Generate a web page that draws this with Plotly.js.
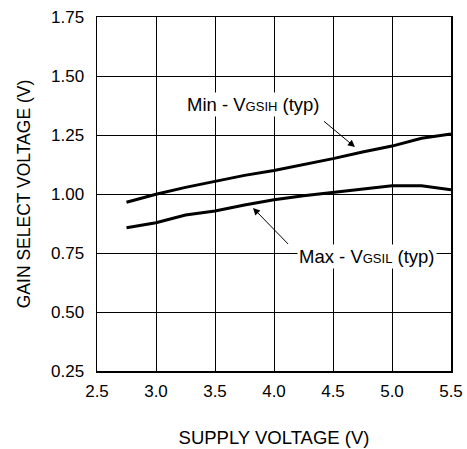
<!DOCTYPE html>
<html>
<head>
<meta charset="utf-8">
<script src="https://cdn.plot.ly/plotly-3.0.1.min.js"></script>
<style>html,body{margin:0;padding:0;background:#fff}#chart{width:467px;height:449px}</style>
</head>
<body>
<div id="chart"></div>
<script>
var supplyVoltage = [2.75, 3.0, 3.25, 3.5, 3.75, 4.0, 4.25, 4.5, 4.75, 5.0, 5.25, 5.5];
var minVgsih = [0.965, 0.999, 1.028, 1.055, 1.079, 1.100, 1.124, 1.150, 1.178, 1.203, 1.236, 1.254];
var maxVgsil = [0.857, 0.878, 0.911, 0.928, 0.953, 0.976, 0.993, 1.007, 1.020, 1.035, 1.035, 1.018];
var xTicks = [2.5, 3.0, 3.5, 4.0, 4.5, 5.0, 5.5];
var yTicks = [0.25, 0.50, 0.75, 1.00, 1.25, 1.50, 1.75];

var font = 'Liberation Sans, Arial, sans-serif';
var traces = [
  {x: supplyVoltage, y: minVgsih, mode: 'lines', line: {color: '#000', width: 3}, hoverinfo: 'none'},
  {x: supplyVoltage, y: maxVgsil, mode: 'lines', line: {color: '#000', width: 3}, hoverinfo: 'none'}
];
var layout = {
  width: 467, height: 449,
  margin: {l: 97, r: 16, t: 17, b: 78},
  showlegend: false,
  paper_bgcolor: '#fff', plot_bgcolor: '#fff',
  font: {family: font, color: '#000', size: 17},
  xaxis: {
    range: [2.5, 5.5], tickvals: xTicks, ticktext: xTicks.map(function(v){return v.toFixed(1);}),
    showgrid: true, gridcolor: '#000', gridwidth: 1, zeroline: false,
    showline: true, linecolor: '#000', linewidth: 1.5, mirror: true,
    ticks: '', ticklabelstandoff: 4,
    tickfont: {family: font, size: 17, color: '#000'},
    title: {text: 'SUPPLY VOLTAGE (V)', font: {family: font, size: 18.5, color: '#000'}, standoff: 31}
  },
  yaxis: {
    range: [0.25, 1.75], tickvals: yTicks, ticktext: yTicks.map(function(v){return v.toFixed(2);}),
    showgrid: true, gridcolor: '#000', gridwidth: 1, zeroline: false,
    showline: true, linecolor: '#000', linewidth: 1.5, mirror: true,
    ticks: '', ticklabelstandoff: 8,
    tickfont: {family: font, size: 17, color: '#000'},
    title: {text: 'GAIN SELECT VOLTAGE (V)', font: {family: font, size: 17.5, color: '#000'}, standoff: 16}
  },
  annotations: [
    {x: 4.686, y: 1.199, ax: 4.39, ay: 1.322, axref: 'x', ayref: 'y',
     text: ' ', showarrow: true, arrowhead: 2, arrowsize: 1.4, arrowwidth: 1, arrowcolor: '#000'},
    {x: 3.822, y: 1.378,
     text: 'Min - V<span style="font-size:13px">GSIH</span> (typ)', showarrow: false,
     bgcolor: '#fff', font: {family: font, size: 18.5, color: '#000'}, borderpad: 1},
    {x: 3.822, y: 0.941, ax: 4.153, ay: 0.771, axref: 'x', ayref: 'y',
     text: ' ', showarrow: true, arrowhead: 2, arrowsize: 1.4, arrowwidth: 1, arrowcolor: '#000'},
    {x: 4.784, y: 0.735,
     text: 'Max - V<span style="font-size:13px">GSIL</span> (typ)', showarrow: false,
     bgcolor: '#fff', font: {family: font, size: 18.5, color: '#000'}, borderpad: 1}
  ]
};
Plotly.newPlot('chart', traces, layout, {displayModeBar: false, staticPlot: true});
</script>
</body>
</html>
